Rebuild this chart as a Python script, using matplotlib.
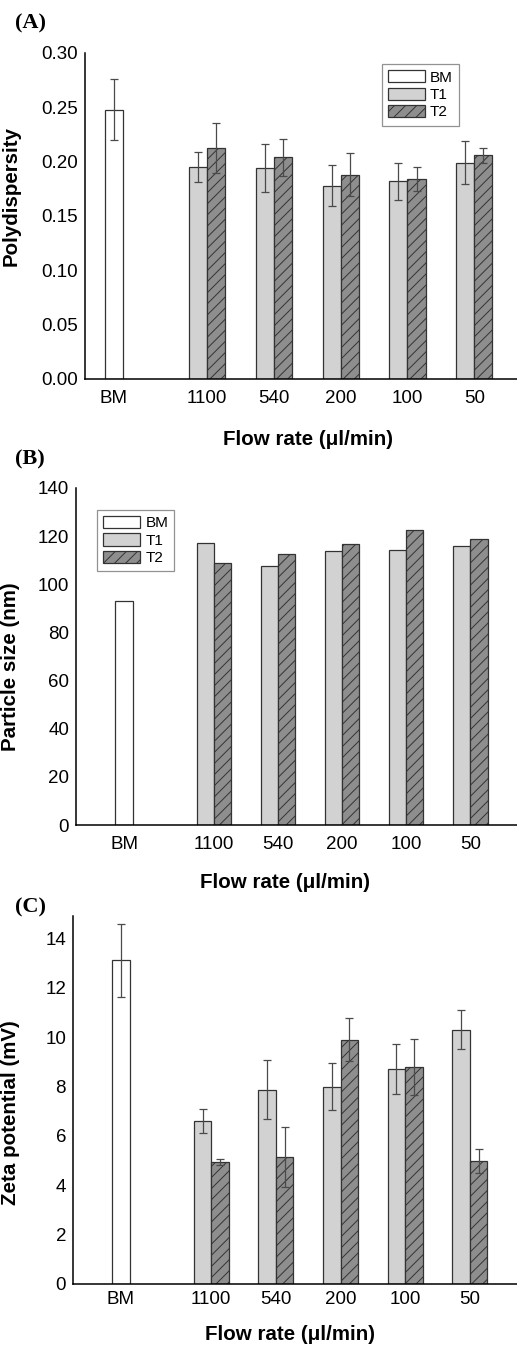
import numpy as np
import matplotlib
matplotlib.use('Agg')
import matplotlib.pyplot as plt

plt.rcParams['font.family'] = ['Liberation Sans', 'DejaVu Sans']
plt.rcParams['hatch.linewidth'] = 0.7

# Categories
groups = ['1100', '540', '200', '100', '50']
tick_labels = ['BM'] + groups

# (A) Polydispersity
pdi_bm, pdi_bm_err = 0.248, 0.028
pdi_t1 = [0.195, 0.194, 0.178, 0.182, 0.199]
pdi_t1_err = [0.014, 0.022, 0.019, 0.017, 0.020]
pdi_t2 = [0.213, 0.204, 0.188, 0.184, 0.206]
pdi_t2_err = [0.023, 0.017, 0.020, 0.011, 0.007]

# (B) Particle size (nm)
size_bm = 92.9
size_t1 = [117.3, 107.7, 113.8, 114.4, 116.0]
size_t2 = [109.0, 112.6, 116.9, 122.7, 118.9]

# (C) Zeta potential (mV)
zeta_bm, zeta_bm_err = 13.1, 1.47
zeta_t1 = [6.59, 7.86, 7.99, 8.71, 10.30]
zeta_t1_err = [0.48, 1.19, 0.96, 1.02, 0.80]
zeta_t2 = [4.95, 5.14, 9.88, 8.79, 4.98]
zeta_t2_err = [0.12, 1.22, 0.87, 1.14, 0.50]

W, H = 517, 1353
fig = plt.figure(figsize=(W / 100, H / 100), dpi=100)

x_bm = 0.0
x_grp = 1.4 + np.arange(len(groups))
bw = 0.27

edge = '#333333'
c_bm, c_t1, c_t2 = 'white', '#d2d2d2', '#8e8e8e'
ekw = dict(ecolor='#4a4a4a', elinewidth=0.9, capsize=3.2, capthick=0.9)
TICK_FS = 13.5
LABEL_FS = 14.8


def make_axes(left, top, right, bottom):
    return fig.add_axes([left / W, 1 - bottom / H, (right - left) / W, (bottom - top) / H])


def draw(ax, bm, t1, t2, bm_err=None, t1_err=None, t2_err=None):
    ax.bar(x_bm, bm, bw, color=c_bm, edgecolor=edge, linewidth=0.9, label='BM',
           yerr=bm_err, error_kw=ekw)
    ax.bar(x_grp - bw / 2, t1, bw, color=c_t1, edgecolor=edge, linewidth=0.9, label='T1',
           yerr=t1_err, error_kw=ekw)
    ax.bar(x_grp + bw / 2, t2, bw, color=c_t2, edgecolor=edge, linewidth=0.9, label='T2',
           hatch='///', yerr=t2_err, error_kw=ekw)
    ax.set_xticks(np.concatenate([[x_bm], x_grp]))
    ax.set_xticklabels(tick_labels)
    for s in ['top', 'right']:
        ax.spines[s].set_visible(False)
    for s in ['left', 'bottom']:
        ax.spines[s].set_linewidth(1.1)
    ax.tick_params(axis='both', length=0, labelsize=TICK_FS)


def legend(ax, x, y):
    leg = ax.legend(loc='upper left', bbox_to_anchor=(x, y), fontsize=11, frameon=True,
                    fancybox=False, edgecolor='#777777', borderaxespad=0, handlelength=2.4,
                    handleheight=0.85, handletextpad=0.35, labelspacing=0.2, borderpad=0.4)
    leg.get_frame().set_linewidth(0.9)


# Panel A
axA = make_axes(85, 53, 517, 379)
draw(axA, pdi_bm, pdi_t1, pdi_t2, pdi_bm_err, pdi_t1_err, pdi_t2_err)
axA.set_xlim(-0.43, 6.04)
axA.set_ylim(0, 0.30)
axA.set_yticks(np.arange(0, 0.31, 0.05))
axA.set_yticklabels([f'{v:.2f}' for v in np.arange(0, 0.31, 0.05)])
axA.tick_params(axis='x', pad=8)
axA.tick_params(axis='y', pad=5)
axA.set_ylabel('Polydispersity', fontsize=LABEL_FS, fontweight='bold')
axA.yaxis.set_label_coords(-0.150, 0.56)
axA.set_xlabel('Flow rate (μl/min)', fontsize=LABEL_FS, fontweight='bold')
axA.xaxis.set_label_coords(0.516, -0.156)
legend(axA, 0.6875, 0.966)

# Panel B
axB = make_axes(76, 488, 517, 825)
draw(axB, size_bm, size_t1, size_t2)
axB.set_xlim(-0.75, 6.13)
axB.set_ylim(0, 140)
axB.set_yticks(np.arange(0, 141, 20))
axB.tick_params(axis='x', pad=8)
axB.tick_params(axis='y', pad=5)
axB.set_ylabel('Particle size (nm)', fontsize=LABEL_FS, fontweight='bold')
axB.yaxis.set_label_coords(-0.127, 0.469)
axB.set_xlabel('Flow rate (μl/min)', fontsize=LABEL_FS, fontweight='bold')
axB.xaxis.set_label_coords(0.474, -0.142)
legend(axB, 0.048, 0.935)

# Panel C
axC = make_axes(73, 916, 517, 1284)
draw(axC, zeta_bm, zeta_t1, zeta_t2, zeta_bm_err, zeta_t1_err, zeta_t2_err)
axC.set_xlim(-0.74, 6.13)
axC.set_ylim(0, 14.9)
axC.set_yticks(np.arange(0, 15, 2))
axC.tick_params(axis='x', pad=5)
axC.tick_params(axis='y', pad=5)
axC.set_ylabel('Zeta potential (mV)', fontsize=LABEL_FS, fontweight='bold')
axC.yaxis.set_label_coords(-0.119, 0.465)
axC.set_xlabel('Flow rate (μl/min)', fontsize=LABEL_FS, fontweight='bold')
axC.xaxis.set_label_coords(0.489, -0.111)

# Panel letters
for lbl, yy in [('(A)', 23), ('(B)', 459), ('(C)', 907)]:
    fig.text(15 / W, 1 - yy / H, lbl, fontsize=16, fontweight='bold',
             family='Liberation Serif', va='center', ha='left')

fig.savefig('out.png', dpi=100)
